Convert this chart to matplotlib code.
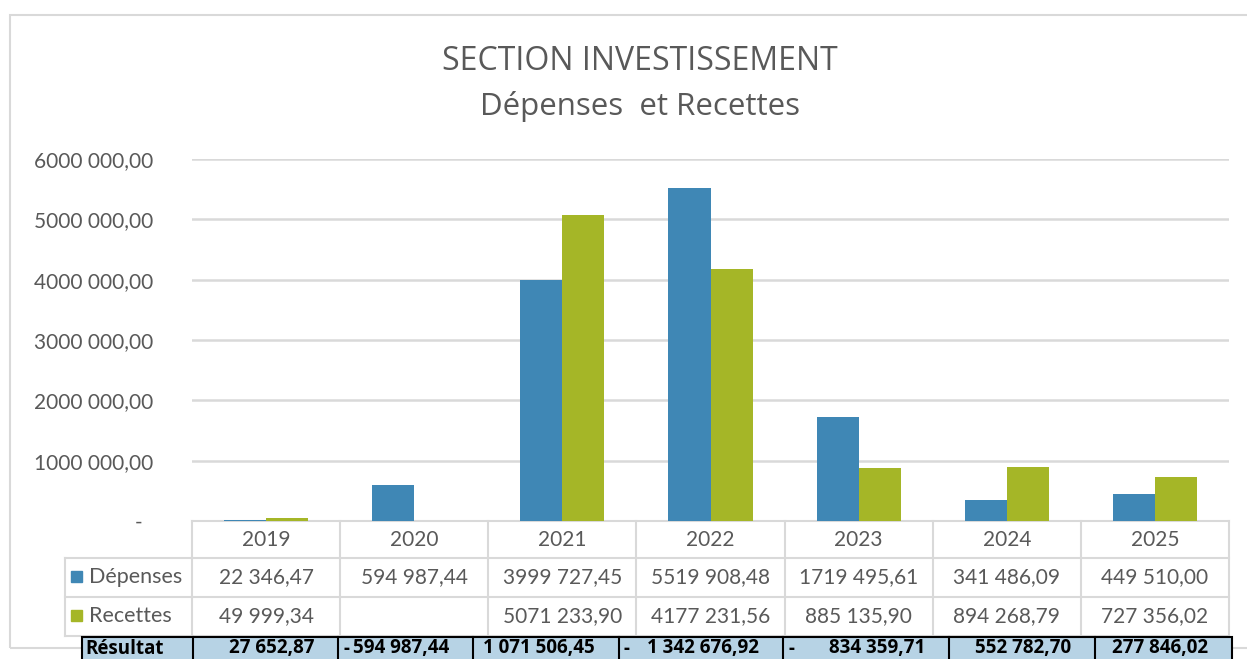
import matplotlib

matplotlib.use("Agg")
import matplotlib.pyplot as plt
import matplotlib.transforms as mtransforms
from matplotlib.patches import Rectangle
from matplotlib.lines import Line2D
import numpy as np

# Data
years = ["2019", "2020", "2021", "2022", "2023", "2024", "2025"]
depenses = [22346.47, 594987.44, 3999727.45, 5519908.48, 1719495.61, 341486.09, 449510.00]
recettes = [49999.34, None, 5071233.90, 4177231.56, 885135.90, 894268.79, 727356.02]
resultat = [27652.87, -594987.44, 1071506.45, -1342676.92, -834359.71, 552782.70, 277846.02]

BLUE = "#3f87b5"
GREEN = "#a5b627"
GRID = "#d9d9d9"
TXT = "#595959"
W, H = 1247, 659


def fx(px):
    return px / W


def fy(py):
    return 1 - py / H


def fr_excel(v):
    # excel style: only the last thousands group is separated
    if v is None:
        return ""
    s = f"{v:.2f}".replace(".", ",")
    ip, dp = s.split(",")
    if len(ip) > 3:
        ip = ip[:-3] + " " + ip[-3:]
    return ip + "," + dp


def fr_full(v):
    return f"{abs(v):,.2f}".replace(",", " ").replace(".", ",")


plt.rcParams["font.family"] = ["Lato", "DejaVu Sans"]
BOLD_FONT = ["Open Sans", "DejaVu Sans"]

fig = plt.figure(figsize=(W / 100, H / 100), dpi=100)

# chart frame
fig.patches.append(Rectangle((fx(10), fy(648)), fx(1300), fy(15) - fy(648),
                             transform=fig.transFigure, fill=False,
                             edgecolor=GRID, linewidth=1.5))

ax = fig.add_axes([fx(192), fy(521), fx(1229 - 192), fy(159) - fy(521)])
x = np.arange(len(years))
bw = 0.284
rec_vals = [v if v is not None else 0 for v in recettes]
ax.bar(x - bw / 2, depenses, bw, color=BLUE, zorder=3)
ax.bar(x + bw / 2, rec_vals, bw, color=GREEN, zorder=3)

ax.set_xlim(-0.5, len(years) - 0.5)
ax.set_ylim(0, 6000000)
ax.set_yticks(np.arange(0, 6000001, 1000000))
ax.set_yticklabels(["-  "] + [fr_excel(v) for v in np.arange(1e6, 6000001, 1e6)])
ax.tick_params(axis="y", length=0, pad=28, labelsize=15, labelcolor=TXT)
ax.set_xticks([])
ax.yaxis.grid(True, color=GRID, linewidth=1.8, zorder=0)
for sp in ax.spines.values():
    sp.set_visible(False)

# title
fig.text(fx(640), fy(62), "SECTION INVESTISSEMENT", ha="center", va="center",
         fontsize=23, color=TXT, family=["Open Sans", "DejaVu Sans"])
fig.text(fx(640), fy(106), "Dépenses  et Recettes", ha="center", va="center",
         fontsize=22.5, color=TXT, family=["Open Sans", "DejaVu Sans"])

# data table under the axis
tr = mtransforms.blended_transform_factory(ax.transData, fig.transFigure)
rows_y = [521, 558, 597, 636]
lo, hi = -0.5, len(years) - 0.5
for py in rows_y:
    ax.add_line(Line2D([lo, hi], [fy(py), fy(py)], transform=tr, color=GRID,
                       linewidth=1.5, clip_on=False))
for k in range(len(years) + 1):
    ax.add_line(Line2D([k - 0.5, k - 0.5], [fy(521), fy(636)], transform=tr,
                       color=GRID, linewidth=1.5, clip_on=False))
# label column
for py in rows_y[1:]:
    fig.add_artist(Line2D([fx(65), fx(192)], [fy(py), fy(py)], color=GRID, linewidth=1.5))
fig.add_artist(Line2D([fx(65), fx(65)], [fy(558), fy(636)], color=GRID, linewidth=1.5))

for i, yr in enumerate(years):
    ax.text(i, fy(540), yr, transform=tr, ha="center", va="center", fontsize=15, color=TXT)
    ax.text(i, fy(577), fr_excel(depenses[i]), transform=tr, ha="center", va="center",
            fontsize=15, color=TXT)
    ax.text(i, fy(616), fr_excel(recettes[i]), transform=tr, ha="center", va="center",
            fontsize=15, color=TXT)

for py, lab, col in [(577, "Dépenses", BLUE), (616, "Recettes", GREEN)]:
    fig.patches.append(Rectangle((fx(71), fy(py) - 5 / H), fx(11), 11 / H,
                                 transform=fig.transFigure, color=col))
    fig.text(fx(89), fy(py), lab, ha="left", va="center", fontsize=15.5, color=TXT)

# resultat row
edges = [82, 193, 338, 473, 619, 783, 949, 1095, 1232]
top, bot = 637, 672
fig.patches.append(Rectangle((fx(edges[0]), fy(bot)), fx(edges[-1] - edges[0]), fy(top) - fy(bot),
                             transform=fig.transFigure, facecolor="#b7d3e5",
                             edgecolor="black", linewidth=1.5, zorder=5))
for e in edges[1:-1]:
    fig.add_artist(Line2D([fx(e), fx(e)], [fy(bot), fy(top)], color="black",
                          linewidth=1.5, zorder=6))
RY = fy(658.5)
fig.text(fx(edges[0] + 3), RY, "Résultat", ha="left", va="bottom", fontsize=13.5,
         fontweight="bold", color="black", family=BOLD_FONT, zorder=7)
for i, v in enumerate(resultat):
    l, r = edges[i + 1], edges[i + 2]
    fig.text(fx(r - 24), RY, fr_full(v), ha="right", va="bottom", fontsize=13.5,
             fontweight="bold", color="black", family=BOLD_FONT, zorder=7)
    if v < 0:
        fig.text(fx(l + 5), RY, "-", ha="left", va="bottom", fontsize=13.5,
                 fontweight="bold", color="black", family=BOLD_FONT, zorder=7)

fig.savefig("out.png", dpi=100)
